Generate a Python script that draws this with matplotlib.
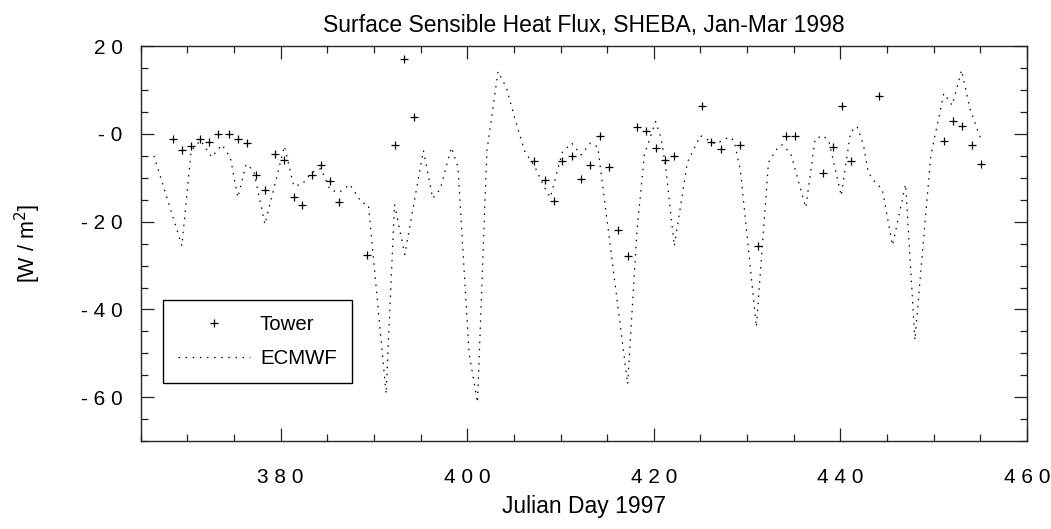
import matplotlib
matplotlib.use('Agg')
import matplotlib.pyplot as plt
from matplotlib.ticker import MultipleLocator

plt.rcParams['font.family'] = ['Liberation Sans', 'DejaVu Sans']

# tower daily means
tower_day = [368.5, 369.4, 370.4, 371.3, 372.3, 373.3, 374.4, 375.4, 376.4, 377.4,
             378.3, 379.4, 380.4, 381.4, 382.3, 383.3, 384.3, 385.3, 386.3, 389.3,
             392.3, 393.2, 394.3, 407.2, 408.3, 409.3, 410.2, 411.2, 412.2, 413.2,
             414.2, 415.2, 416.2, 417.2, 418.2, 419.2, 420.2, 421.2, 422.2, 425.2,
             426.1, 427.2, 429.2, 431.2, 434.2, 435.1, 438.1, 439.2, 440.2, 441.1,
             444.2, 451.1, 452.1, 453.0, 454.1, 455.1]
tower_flux = [-1.1, -3.7, -2.8, -1.1, -1.8, -0.1, 0.0, -1.1, -2.0, -9.3,
              -12.8, -4.7, -5.9, -14.4, -16.2, -9.3, -7.2, -10.8, -15.6, -27.7,
              -2.6, 17.0, 3.9, -6.3, -10.5, -15.3, -6.3, -5.0, -10.3, -7.1,
              -0.4, -7.6, -21.9, -27.8, 1.5, 0.7, -3.3, -6.0, -5.0, 6.3,
              -1.9, -3.4, -2.5, -25.5, -0.4, -0.4, -8.9, -3.1, 6.3, -6.3,
              8.6, -1.7, 3.0, 1.8, -2.6, -6.8]

# ECMWF model values
ecmwf_day = [366.4, 369.4, 370.4, 371.4, 372.6, 373.7, 374.6, 375.4, 376.3, 377.1,
             378.3, 380.4, 381.4, 382.3, 383.3, 384.3, 385.3, 386.3, 387.4, 388.7,
             389.4, 391.3, 392.2, 393.3, 395.3, 396.3, 397.1, 398.3, 399.0, 400.2,
             401.1, 402.1, 403.3, 404.2, 405.2, 406.2, 407.2, 408.2, 408.9, 410.2,
             411.2, 412.2, 413.2, 414.0, 417.2, 418.2, 419.0, 420.2, 420.8, 421.3,
             422.2, 423.6, 425.0, 426.6, 428.1, 428.6, 429.3, 431.0, 432.3, 433.4,
             433.8, 434.7, 436.3, 437.3, 438.2, 438.8, 440.1, 441.1, 441.8, 442.5,
             443.0, 443.6, 444.5, 445.6, 447.0, 448.0, 449.7, 451.1, 452.0, 453.0,
             453.9, 455.0]
ecmwf_flux = [-5.0, -25.5, -3.8, -1.5, -5.3, -2.5, -5.4, -14.5, -6.9, -8.4,
              -20.6, -2.8, -11.9, -11.5, -8.8, -7.9, -12.8, -13.3, -11.5, -15.7,
              -16.1, -59.2, -16.1, -27.5, -3.8, -14.7, -12.6, -3.1, -7.5, -50.0,
              -61.2, -4.0, 14.2, 10.5, 2.7, -4.2, -7.3, -11.9, -14.5, -4.2,
              -2.1, -4.8, -2.1, -3.0, -57.0, -22.0, -4.6, 2.8, -1.1, -8.0,
              -25.6, -6.5, -0.4, -2.3, -0.7, -1.5, -8.5, -44.0, -6.5, -2.8,
              -2.5, -4.6, -16.8, -1.1, -0.4, -1.9, -14.1, 0.4, 1.7, -2.7,
              -8.8, -10.7, -12.6, -25.4, -11.5, -47.0, -5.0, 9.2, 6.5, 14.5,
              5.7, -0.8]

xticks = [380, 400, 420, 440, 460]
xtick_labels = ['3 8 0', '4 0 0', '4 2 0', '4 4 0', '4 6 0']
yticks = [20, 0, -20, -40, -60]
ytick_labels = ['2 0', '- 0', '- 2 0', '- 4 0', '- 6 0']

fig = plt.figure(figsize=(10.51, 5.29), dpi=100)
ax = fig.add_axes([0.134, 0.166, 0.843, 0.747])

ax.plot(tower_day, tower_flux, linestyle='none', marker='+', color='black',
        markersize=6, markeredgewidth=0.9, label='Tower')
ax.plot(ecmwf_day, ecmwf_flux, color='black', linewidth=0.9,
        linestyle=(0, (1.2, 4.5)), label='ECMWF')

ax.set_xlim(365, 460)
ax.set_ylim(-70, 20)
ax.set_xticks(xticks)
ax.set_xticklabels(xtick_labels)
ax.set_yticks(yticks)
ax.set_yticklabels(ytick_labels)
ax.xaxis.set_minor_locator(MultipleLocator(5))
ax.yaxis.set_minor_locator(MultipleLocator(5))
ax.tick_params(which='both', direction='in', top=True, right=True, width=0.9, color='#222222')
ax.tick_params(which='major', length=9.5, labelsize=15)
ax.tick_params(which='minor', length=5)
ax.tick_params(axis='x', which='major', pad=19.5)
ax.tick_params(axis='y', which='major', pad=13)
for s in ax.spines.values():
    s.set_linewidth(1.0)
    s.set_color('#222222')

ax.set_title('Surface Sensible Heat Flux, SHEBA, Jan-Mar 1998', fontsize=16.5, pad=10)
ax.set_xlabel('Julian Day 1997', fontsize=16.5)
ax.xaxis.set_label_coords(0.5, -0.137)
ax.set_ylabel('[W / m$^2$]', fontsize=15.5)
ax.yaxis.set_label_coords(-0.11, 0.5)

leg = ax.legend(loc='upper left', bbox_to_anchor=(0.025, 0.357), borderaxespad=0,
                fontsize=14.7, handlelength=3.5, handletextpad=0.5, labelspacing=0.7,
                borderpad=0.75, fancybox=False, framealpha=1, edgecolor='black')
leg.get_frame().set_linewidth(1.0)

fig.savefig('out.png', dpi=100)
